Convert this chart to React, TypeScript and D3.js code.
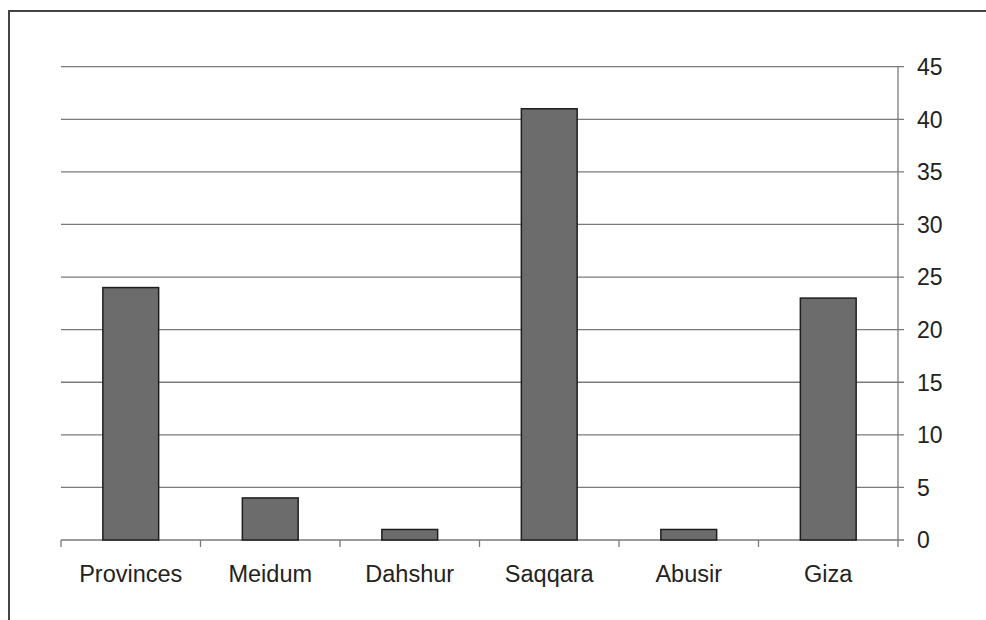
import React from "react";
import * as d3 from "d3";

const categories = ["Provinces", "Meidum", "Dahshur", "Saqqara", "Abusir", "Giza"];
const values = [24, 4, 1, 41, 1, 23];
const yTicks = [0, 5, 10, 15, 20, 25, 30, 35, 40, 45];

export default function App() {
  const W = 986, H = 620;
  const left = 61, right = 898, top = 66.7, bottom = 540;
  const x = d3.scaleBand<string>().domain(categories).range([left, right]).paddingInner(0.6).paddingOuter(0.3);
  const xb = d3.scaleBand<string>().domain(categories).range([left, right]);
  const y = d3.scaleLinear().domain([0, 45]).range([bottom, top]);
  const font = "'Liberation Sans', Arial, sans-serif";
  return (
    <svg width={W} height={H} style={{ position: "fixed", left: 0, top: 0, background: "#fff" }}>
      <rect x={0} y={0} width={W} height={H} fill="#fff" />
      <path d={`M9,${H} L9,11 L${W},11`} fill="none" stroke="#444" strokeWidth={2} />
      {yTicks.map((t) => (
        <g key={t}>
          <line x1={left} x2={right + 6} y1={y(t)} y2={y(t)} stroke="#7a7a7a" strokeWidth={1.3} />
          <text x={917} y={y(t)} dy="0.36em" fontFamily={font} fontSize={23} fill="#222">{t}</text>
        </g>
      ))}
      <line x1={right} x2={right} y1={top} y2={bottom + 7} stroke="#7a7a7a" strokeWidth={1.3} />
      {categories.map((c) => (
        <line key={"t" + c} x1={xb(c)!} x2={xb(c)!} y1={bottom} y2={bottom + 7} stroke="#7a7a7a" strokeWidth={1.3} />
      ))}
      {categories.map((c, i) => (
        <rect key={c} x={x(c)!} y={y(values[i])} width={x.bandwidth()} height={bottom - y(values[i])}
          fill="#6c6c6c" stroke="#1e1e1e" strokeWidth={1.5} />
      ))}
      {categories.map((c) => (
        <text key={"l" + c} x={xb(c)! + xb.bandwidth() / 2} y={582} textAnchor="middle" fontFamily={font} fontSize={23.5} fill="#222">{c}</text>
      ))}
    </svg>
  );
}
